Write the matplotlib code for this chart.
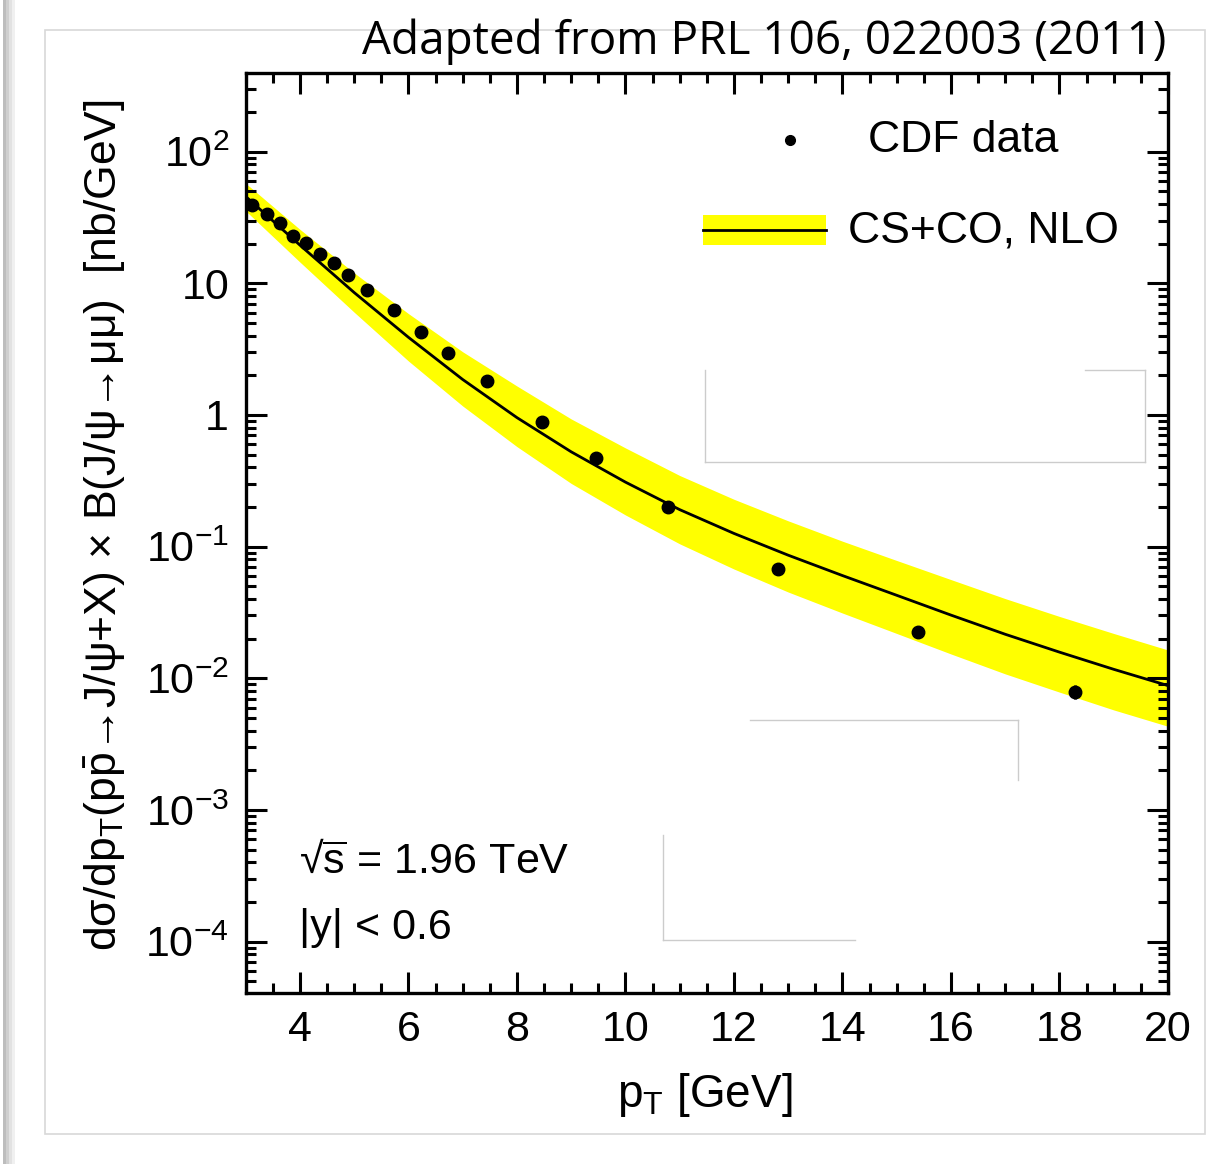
import numpy as np
import matplotlib
matplotlib.use("Agg")
import matplotlib.pyplot as plt
from matplotlib.patches import Rectangle
from matplotlib.lines import Line2D
from matplotlib.ticker import FixedLocator, MultipleLocator, LogLocator, NullFormatter

# ---------------- data ----------------
cdf_pt = [3.11, 3.39, 3.63, 3.88, 4.12, 4.37, 4.63, 4.88, 5.23, 5.73, 6.23, 6.73,
          7.45, 8.46, 9.46, 10.79, 12.81, 15.39, 18.28]
cdf_xsec = [39.4, 33.5, 28.6, 22.9, 20.4, 16.6, 14.2, 11.5, 8.9, 6.28, 4.30, 2.94,
            1.81, 0.885, 0.472, 0.201, 0.0673, 0.0224, 0.00792]
cdf_err = [0, 0, 0, 0, 0, 0, 0, 0, 0, 0, 0, 0, 0, 0, 0, 0, 0, 0, 0.0009]

nlo_pt = [3, 4, 5, 6, 7, 8, 9, 10, 11, 12, 13, 14, 15, 16, 17, 18, 19, 20]
nlo_central = [45.7, 19.5, 8.51, 3.89, 1.86, 0.955, 0.525, 0.309, 0.191, 0.126,
               0.0861, 0.0603, 0.0427, 0.0302, 0.0216, 0.0158, 0.0117, 0.0088]
nlo_upper = [57.5, 25.7, 12.0, 5.89, 3.02, 1.66, 0.933, 0.562, 0.347, 0.229,
             0.157, 0.110, 0.0785, 0.0562, 0.0403, 0.0295, 0.0219, 0.0164]
nlo_lower = [35.5, 14.5, 6.03, 2.57, 1.17, 0.575, 0.302, 0.174, 0.105, 0.0676,
             0.0452, 0.0313, 0.0219, 0.0153, 0.0108, 0.00785, 0.00575, 0.00432]

xtick_vals = [4, 6, 8, 10, 12, 14, 16, 18, 20]
ytick_vals = [1e-4, 1e-3, 1e-2, 1e-1, 1, 10, 100]
ytick_labels = [r'$10^{-4}$', r'$10^{-3}$', r'$10^{-2}$', r'$10^{-1}$', '1', '10', r'$10^{2}$']

# ---------------- style ----------------
plt.rcParams['font.family'] = ['Liberation Sans', 'DejaVu Sans']
plt.rcParams['mathtext.fontset'] = 'custom'
plt.rcParams['mathtext.rm'] = 'Liberation Sans'
plt.rcParams['mathtext.it'] = 'Liberation Sans'
plt.rcParams['mathtext.bf'] = 'Liberation Sans:bold'

W, H = 1224, 1164
fig = plt.figure(figsize=(W / 100, H / 100), dpi=100)

# outer frame and left shadow
fig.patches.append(Rectangle((45 / W, 1 - 1134 / H), (1205 - 45) / W, (1134 - 30) / H,
                             transform=fig.transFigure, fill=False,
                             edgecolor='#d8d8d8', linewidth=1.2))
for i, c in enumerate(['#bdbdbd', '#cfcfcf', '#e2e2e2', '#f0f0f0']):
    fig.patches.append(Rectangle(((3 + 3 * i) / W, 0), 3 / W, 1,
                                 transform=fig.transFigure, color=c, linewidth=0))

ax = fig.add_axes([245.7 / W, 1 - 993 / H, (1168 - 245.7) / W, (993 - 73) / H])

ax.fill_between(nlo_pt, nlo_lower, nlo_upper, color='#ffff00', linewidth=0, zorder=1)
ax.plot(nlo_pt, nlo_central, color='black', linewidth=2.0, zorder=2)
ax.errorbar(cdf_pt, cdf_xsec, yerr=cdf_err, fmt='o', color='black', ms=9,
            elinewidth=2, capsize=0, zorder=3)

ax.set_yscale('log')
ax.set_xlim(3, 20)
ax.set_ylim(4.07e-5, 396)

ax.xaxis.set_major_locator(FixedLocator(xtick_vals))
ax.xaxis.set_minor_locator(MultipleLocator(0.5))
ax.set_xticklabels([str(v) for v in xtick_vals])
ax.yaxis.set_major_locator(FixedLocator(ytick_vals))
ax.set_yticklabels(ytick_labels)
ax.yaxis.set_minor_locator(LogLocator(base=10, subs=np.arange(2, 10)))
ax.yaxis.set_minor_formatter(NullFormatter())

ax.tick_params(which='both', direction='in', top=True, right=True, width=2.2,
               labelsize=31, colors='black')
ax.tick_params(which='major', length=15)
ax.tick_params(which='minor', length=7)
ax.tick_params(axis='x', pad=12)
ax.tick_params(axis='y', pad=12)
for s in ax.spines.values():
    s.set_linewidth(2.4)

# faint editing-mask outlines visible in the original
mask_lines = [
    ([705, 705], [370, 462]), ([705, 1145], [462, 462]), ([1145, 1145], [370, 462]),
    ([1085, 1145], [370, 370]),
    ([750, 1018], [720, 720]), ([1018, 1018], [720, 780]),
    ([663, 663], [835, 940]), ([663, 855], [940, 940]),
]
for xs, ys in mask_lines:
    fig.add_artist(Line2D([x / W for x in xs], [1 - y / H for y in ys],
                          transform=fig.transFigure, color='#cccccc', linewidth=1.0))

# legend (drawn manually)
ax.plot([0.590], [0.927], 'o', color='black', ms=7, transform=ax.transAxes)
ax.text(0.675, 0.927, 'CDF data', transform=ax.transAxes, fontsize=32,
        va='center', ha='left')
ax.add_patch(Rectangle((0.496, 0.813), 0.133, 0.033, transform=ax.transAxes,
                       color='#ffff00', linewidth=0))
ax.add_line(Line2D([0.496, 0.629], [0.829, 0.829], transform=ax.transAxes,
                   color='black', linewidth=2.0))
ax.text(0.653, 0.828, 'CS+CO, NLO', transform=ax.transAxes, fontsize=32,
        va='center', ha='left')

ax.text(0.058, 0.142, '√' + r'$\overline{\mathrm{s}}$ = 1.96 TeV', transform=ax.transAxes,
        fontsize=31, va='center', ha='left')
ax.text(0.058, 0.071, '|y| < 0.6', transform=ax.transAxes,
        fontsize=31, va='center', ha='left')

fig.text(705 / W, 1 - 1095 / H, r'p$_{\mathrm{T}}$ [GeV]', fontsize=33,
         ha='center', va='center')
fig.text(105 / W, 1 - 525 / H,
         r'dσ/dp$_{\mathrm{T}}$(p$\bar{\mathrm{p}}$→J/ψ+X) × B(J/ψ→μμ)  [nb/GeV]',
         rotation=90, fontsize=32, ha='center', va='center')

fig.text(1166 / W, 1 - 42 / H, 'Adapted from PRL 106, 022003 (2011)',
         family=['Open Sans', 'DejaVu Sans'], fontsize=33, ha='right', va='center')

fig.savefig('out.png', dpi=100)
